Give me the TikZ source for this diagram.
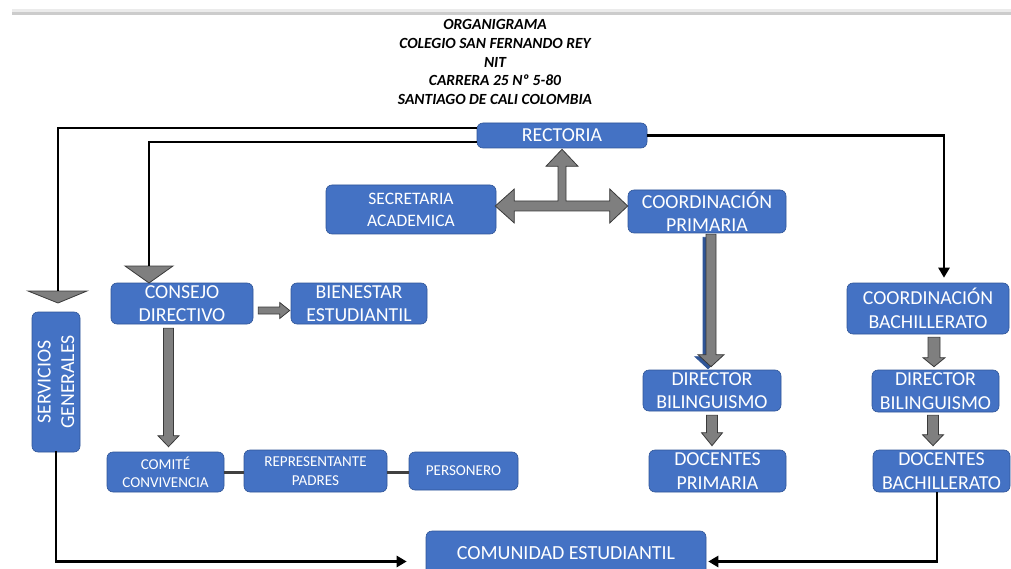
\documentclass[tikz,border=0pt]{standalone}
\usepackage{fontspec}
\setmainfont{Carlito}
\usetikzlibrary{arrows.meta,calc}
\definecolor{boxblue}{HTML}{4472C4}
\definecolor{boxedge}{HTML}{2F5597}
\definecolor{arrgray}{HTML}{7F7F7F}
\definecolor{arredge}{HTML}{3A3A3A}
\definecolor{shadowblue}{HTML}{2F5597}
\newcommand\bdown[6][blk]{%
  \draw[#1] let \p1=(#2), \p2=(#3) in
  (\x1-#4pt,\y1) -- (\x1+#4pt,\y1) -- (\x1+#4pt,\y2+#6pt) -- (\x1+#5pt,\y2+#6pt)
  -- (\x1,\y2) -- (\x1-#5pt,\y2+#6pt) -- (\x1-#4pt,\y2+#6pt) -- cycle;}
\newcommand\bright[6][blk]{%
  \draw[#1] let \p1=(#2), \p2=(#3) in
  (\x1,\y1+#4pt) -- (\x2-#6pt,\y1+#4pt) -- (\x2-#6pt,\y1+#5pt) -- (\x2,\y1)
  -- (\x2-#6pt,\y1-#5pt) -- (\x2-#6pt,\y1-#4pt) -- (\x1,\y1-#4pt) -- cycle;}
\tikzset{
  box/.style={draw=boxedge, line width=0.6pt, fill=boxblue, rounded corners=6pt,
    text=white, inner sep=0pt, align=center},
  big/.style={font=\fontsize{19.8}{23.5}\selectfont},
  mid/.style={font=\fontsize{17.5}{22}\selectfont},
  small/.style={font=\fontsize{15.1}{18.5}\selectfont},
  blk/.style={fill=arrgray, draw=arredge, line width=0.8pt, line join=miter},
  blkshadow/.style={fill=shadowblue, draw=shadowblue, line width=0.8pt},
  bline/.style={draw=black, line width=2.5pt},
  barrow/.style={bline, -{Triangle[length=10pt,width=11pt]}},
  gline/.style={draw=black!75, line width=3pt},
  tri/.style={fill=arrgray, draw=arredge, line width=0.8pt},
}
\begin{document}
\begin{tikzpicture}[x=1pt,y=-1pt]
\useasboundingbox (0,0) rectangle (1011,569);
\clip (0,0) rectangle (1011,569);
% top rule
\fill[black!8] (12,9) rectangle (1011,11.8);
\fill[black!20] (12,11.8) rectangle (1011,14.6);
% title
\node[font=\fontsize{15.5}{18.75}\selectfont\bfseries\itshape, align=center] (title) at (495,62)
  {ORGANIGRAMA\\COLEGIO SAN FERNANDO REY\\NIT\\CARRERA 25 Nº 5-80\\SANTIAGO DE CALI COLOMBIA};
% boxes
\node[box,big,minimum width=170,minimum height=25] (rect) at (562,135.5) {RECTORIA};
\node[box,mid,minimum width=170,minimum height=49] (sec) at (411,209.5) {SECRETARIA\\ACADEMICA};
\node[box,big,minimum width=158,minimum height=43] (cp) at (707,211.5) {COORDINACIÓN\\PRIMARIA};
\node[box,big,minimum width=162,minimum height=51] (cb) at (928,308.5) {COORDINACIÓN\\BACHILLERATO};
\node[box,big,minimum width=142,minimum height=41] (cons) at (182,303.5) {CONSEJO\\DIRECTIVO};
\node[box,big,minimum width=136,minimum height=41] (bien) at (359,303.5) {BIENESTAR\\ESTUDIANTIL};
\node[box,big,minimum width=140,minimum height=48,rotate=90] (serv) at (56,382) {SERVICIOS\\GENERALES};
\node[box,small,minimum width=117,minimum height=40] (com) at (165.5,472) {COMITÉ\\CONVIVENCIA};
\node[box,small,minimum width=143,minimum height=42] (rep) at (315.5,471) {REPRESENTANTE\\PADRES};
\node[box,small,minimum width=109,minimum height=38] (pers) at (463.5,471) {PERSONERO};
\node[box,big,minimum width=138,minimum height=41] (dbp) at (712,390.5) {DIRECTOR\\BILINGUISMO};
\node[box,big,minimum width=137,minimum height=42] (docp) at (717.5,471) {DOCENTES\\PRIMARIA};
\node[box,big,minimum width=127,minimum height=42] (dbb) at (935.5,391) {DIRECTOR\\BILINGUISMO};
\node[box,big,minimum width=137,minimum height=42] (docb) at (941.5,471) {DOCENTES\\BACHILLERATO};
\node[box,font=\fontsize{20}{24}\selectfont,minimum width=280,minimum height=44] (comu) at (566,553) {COMUNIDAD ESTUDIANTIL};
% triangle markers
\coordinate (t1) at (58,291);
\coordinate (t2) at (149,266);
\draw[tri] ($(t1)+(-30,0)$) -- ($(t1)+(29,0)$) -- ($(t1)+(0,12)$) -- cycle;
\draw[tri] ($(t2)+(-24,0)$) -- ($(t2)+(24,0)$) -- ($(t2)+(0,17)$) -- cycle;
% black connectors
\draw[bline] ([yshift=7.5pt]rect.west) -| (t1);
\draw[bline] ([yshift=-6.5pt]rect.west) -| (t2);
\draw[barrow] (rect.east) -| ([xshift=16pt,yshift=5pt]cb.north);
\draw[barrow] ([yshift=1.5pt]serv.west) |- ([xshift=-19pt,yshift=-8.5pt]comu.west);
\draw[barrow] ([xshift=-4.5pt]docb.south) |- ([xshift=2pt,yshift=-8.5pt]comu.east);
% gray plain connectors
\draw[gline] (com.east) -- (com.east -| rep.west);
\draw[gline] ([yshift=-1pt]rep.east) -- ([yshift=-1pt]rep.east -| pers.west);
% block arrows
\bright{[xshift=5pt,yshift=-7pt]cons.east}{[xshift=-1pt]bien.west}{3.5}{8}{10}
\bdown{[xshift=-13.5pt,yshift=-4pt]cons.south}{[yshift=5pt]com.north}{5}{10.5}{11}
\bdown[blkshadow]{[xshift=1pt,yshift=-4pt]cp.south}{[xshift=1pt,yshift=1pt]dbp.north}{5}{13}{12}
\bdown{[xshift=4pt,yshift=-1pt]cp.south}{[yshift=3pt]dbp.north}{5}{13}{12}
\bdown{[yshift=-4pt]dbp.south}{[yshift=4pt]docp.north}{5.5}{10.5}{13}
\bdown{[xshift=6pt,yshift=-3pt]cb.south}{[yshift=3pt]dbb.north}{6}{11}{9}
\bdown{[xshift=-2.5pt,yshift=-3pt]dbb.south}{[yshift=4pt]docb.north}{5.5}{10.5}{11}
% three-way arrow between secretaria, coordinacion primaria and rectoria
\draw[blk] let \p1=([xshift=-1pt,yshift=3.5pt]sec.east), \p2=(cp.west), \p3=([yshift=-1pt]rect.south) in
  (\x1,\y1) -- (\x1+19pt,\y1+17pt) -- (\x1+19pt,\y1+5pt) -- (\x3-4pt,\y1+5pt)
  -- (\x3-4pt,\y3-17pt) -- (\x3-16pt,\y3-17pt) -- (\x3,\y3) -- (\x3+16pt,\y3-17pt)
  -- (\x3+4pt,\y3-17pt) -- (\x3+4pt,\y1+5pt) -- (\x2-18pt,\y1+5pt) -- (\x2-18pt,\y1+17pt)
  -- (\x2,\y1) -- (\x2-18pt,\y1-17pt) -- (\x2-18pt,\y1-5pt) -- (\x1+19pt,\y1-5pt)
  -- (\x1+19pt,\y1-17pt) -- cycle;
\end{tikzpicture}
\end{document}
